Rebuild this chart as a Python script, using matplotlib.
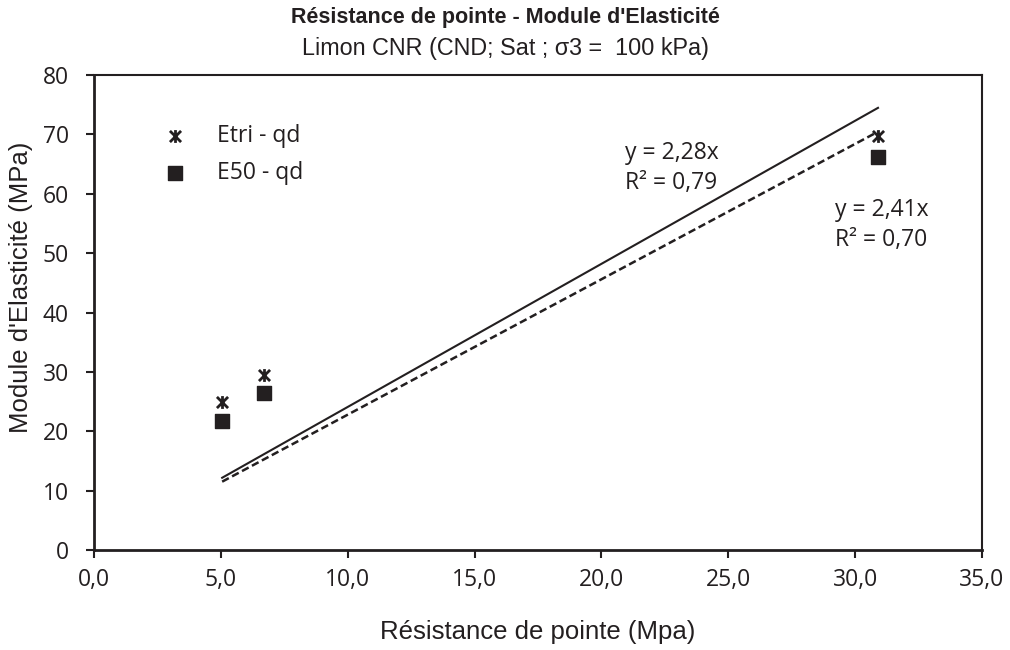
import matplotlib
matplotlib.use("Agg")
import matplotlib.pyplot as plt
from matplotlib.path import Path
import numpy as np

qd = [5.05, 6.7, 30.9]
etri = [24.9, 29.4, 69.7]
e50 = [21.7, 26.5, 66.2]
slope_etri = 2.41
slope_e50 = 2.28
xticks = [0, 5, 10, 15, 20, 25, 30, 35]
yticks = [0, 10, 20, 30, 40, 50, 60, 70, 80]

INK = "#231f20"
star = Path([(-1, -1), (1, 1), (-1, 1), (1, -1), (0, -1.15), (0, 1.15)],
            [Path.MOVETO, Path.LINETO, Path.MOVETO, Path.LINETO, Path.MOVETO, Path.LINETO])

fig = plt.figure(figsize=(10.1, 6.5), dpi=100)
ax = fig.add_axes([0.0931, 0.1538, 0.8792, 0.7308])

xl = np.array([min(qd), max(qd)])
ax.plot(xl, slope_etri * xl, color=INK, lw=1.5, ls="-")
ax.plot(xl, slope_e50 * xl, color=INK, lw=1.8, ls=(0, (3, 1.5)))
ax.scatter(qd, etri, marker=star, s=85, color=INK, linewidths=2.0, zorder=3)
ax.scatter(qd, e50, marker="s", s=100, color=INK, zorder=3)

ax.set_xlim(0, 35)
ax.set_ylim(0, 80)
ax.set_xticks(xticks)
ax.set_yticks(yticks)
ax.set_xticklabels([f"{v:.1f}".replace(".", ",") for v in xticks], fontfamily="Open Sans", fontsize=16.5)
ax.set_yticklabels([str(v) for v in yticks], fontfamily="Open Sans", fontsize=16.5)
ax.tick_params(direction="out", length=6, width=1.5, color=INK, labelcolor=INK)
ax.tick_params(axis="x", pad=7)
ax.tick_params(axis="y", pad=12)
for s in ax.spines.values():
    s.set_color(INK)
    s.set_linewidth(1.5)
ax.spines["bottom"].set_linewidth(2)
ax.spines["left"].set_linewidth(2)

ax.set_xlabel("Résistance de pointe (Mpa)", fontfamily="Liberation Sans", fontsize=18.5, color=INK)
ax.set_ylabel("Module d'Elasticité (MPa)", fontfamily="Liberation Sans", fontsize=18.5, color=INK)
ax.xaxis.set_label_coords(0.5, -0.147)
ax.yaxis.set_label_coords(-0.069, 0.554)

fig.text(0.5, 1 - 18 / 650, "Résistance de pointe - Module d'Elasticité", ha="center", va="center",
         fontfamily="Liberation Sans", fontweight="bold", fontsize=15.5, color=INK)
fig.text(0.5, 1 - 49 / 650, "Limon CNR (CND; Sat ; σ3 =  100 kPa)", ha="center", va="center",
         fontfamily="Liberation Sans", fontsize=16.8, color=INK)

# legend
ax.scatter([3.2], [69.7], marker=star, s=85, color=INK, linewidths=2.0)
ax.scatter([3.2], [63.5], marker="s", s=100, color=INK)
ax.text(4.85, 69.7, "Etri - qd", va="center", ha="left", fontfamily="Open Sans", fontsize=16.5, color=INK)
ax.text(4.85, 63.5, "E50 - qd", va="center", ha="left", fontfamily="Open Sans", fontsize=16.5, color=INK)

ax.text(20.93, 66.8, "y = 2,28x", va="center", ha="left", fontfamily="Open Sans", fontsize=16.5, color=INK)
ax.text(20.93, 61.8, "R² = 0,79", va="center", ha="left", fontfamily="Open Sans", fontsize=16.5, color=INK)
ax.text(29.2, 57.2, "y = 2,41x", va="center", ha="left", fontfamily="Open Sans", fontsize=16.5, color=INK)
ax.text(29.2, 52.2, "R² = 0,70", va="center", ha="left", fontfamily="Open Sans", fontsize=16.5, color=INK)

fig.savefig("out.png", dpi=100)
